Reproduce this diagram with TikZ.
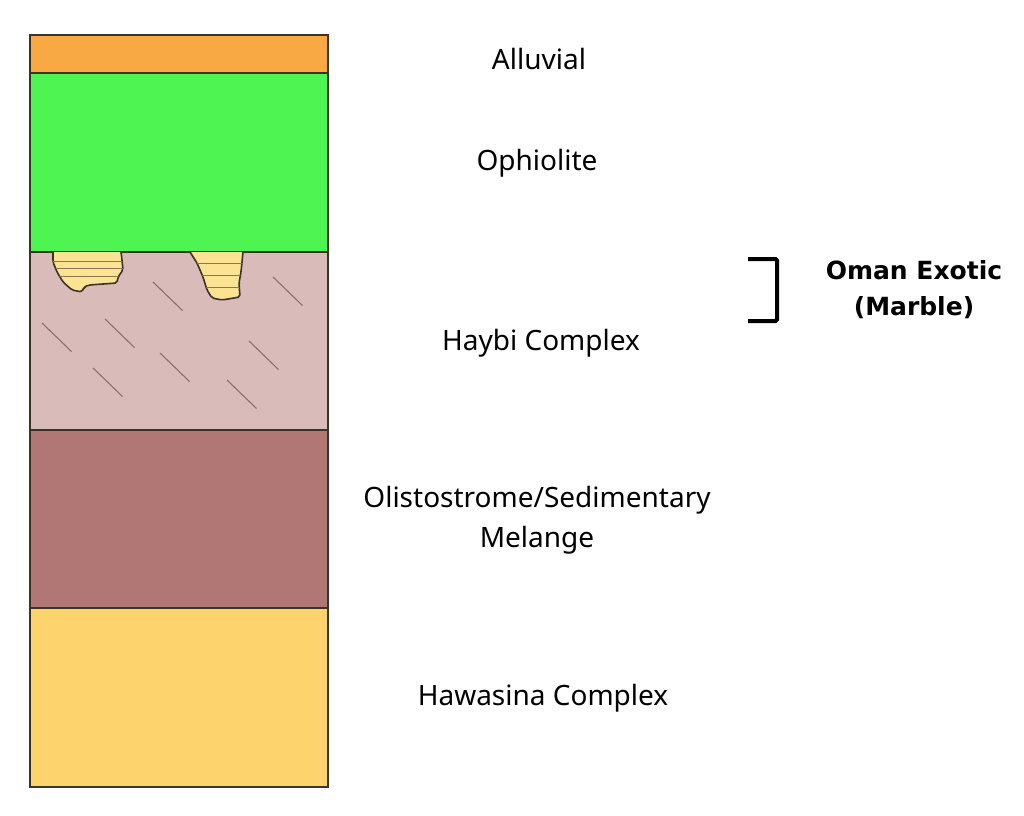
\documentclass[tikz,border=0pt]{standalone}
\usepackage{fontspec}
\setmainfont{Noto Sans}
\newfontfamily\exoticfont{DejaVu Sans}
\usetikzlibrary{positioning}

\definecolor{alluvialc}{HTML}{F9A943}
\definecolor{ophiolitec}{HTML}{4EF552}
\definecolor{haybic}{HTML}{D9BBBA}
\definecolor{olistoc}{HTML}{B07775}
\definecolor{hawasinac}{HTML}{FDD36E}
\definecolor{marblec}{HTML}{FCE293}
\definecolor{hatchc}{HTML}{8C6E6F}
\definecolor{edgec}{HTML}{3A3326}

\tikzset{
  layer/.style={draw=edgec, line width=1.2pt},
  marble/.style={fill=marblec, draw=edgec, line width=1.6pt, rounded corners=2pt},
  hatch/.style={draw=hatchc, line width=1.1pt},
  lbl/.style={font=\fontsize{28}{40}\selectfont, align=center, inner sep=0pt},
  boldlbl/.style={font=\exoticfont\bfseries\fontsize{25}{36}\selectfont, align=center, inner sep=0pt}
}

\begin{document}
\begin{tikzpicture}[x=1pt, y=-1pt]

\useasboundingbox (0,0) rectangle (1024,815);

% the column, top to bottom
\draw [layer, fill=alluvialc] (30,35) rectangle (328,73);

\draw [layer, fill=ophiolitec] (30,73) rectangle (328,252);

\draw [layer, fill=haybic] (30,252) rectangle (328,430);

\draw [layer, fill=olistoc] (30,430) rectangle (328,608);

\draw [layer, fill=hawasinac] (30,608) rectangle (328,787);

% marble blocks hanging below the ophiolite
\draw [marble] (53,252) -- (53,262) -- (57,272) -- (63,282) -- (72,290) -- (82,292) -- (84,287) -- (89,285) -- (117,283) -- (118,277) -- (123,270) -- (122,260) -- (121,252);

\begin{scope}
\clip (53,252) -- (53,262) -- (57,272) -- (63,282) -- (72,290) -- (82,292) -- (84,287) -- (89,285) -- (117,283) -- (118,277) -- (123,270) -- (122,260) -- (121,252) -- cycle;
\foreach \y in {261,268,276}
  \draw [hatch, draw=edgec!60!marblec, line width=0.8pt] (50,\y) -- (126,\y);
\end{scope}

\draw [marble] (190,252) -- (197,263) -- (203,277) -- (207,290) -- (212,298) -- (222,300) -- (240,297) -- (239,283) -- (241,272) -- (243,252);

\begin{scope}
\clip (190,252) -- (197,263) -- (203,277) -- (207,290) -- (212,298) -- (222,300) -- (240,297) -- (239,283) -- (241,272) -- (243,252) -- cycle;
\foreach \y in {263,275,287}
  \draw [hatch, draw=edgec!60!marblec, line width=0.8pt] (186,\y) -- (246,\y);
\end{scope}

% schistosity ticks in the Haybi
\foreach \xa/\ya in {153/282, 273/277, 42/323, 105/319, 249/341, 160/353, 93/368, 227/380}
  \draw [hatch] (\xa,\ya) -- ++(29.5,28.5);

% labels
\node(alluvial)[lbl] at (539,59) {Alluvial};

\node(ophiolite)[lbl] at (537,163) {Ophiolite};

\node(haybi)[lbl] at (541,343) {Haybi Complex};

\node(olisto)[lbl] at (537,520) {Olistostrome/Sedimentary\\Melange};

\node(hawasina)[lbl] at (543,698) {Hawasina Complex};

\node(exotic)[boldlbl] at (914,290) {Oman Exotic\\(Marble)};

% bracket
\coordinate (bt) at (748,259);

\coordinate (bb) at (748,321);

\draw [line width=4pt, rounded corners=1.5pt] (bt) -- (777,259) -- (777,321) -- (bb);

\end{tikzpicture}
\end{document}
